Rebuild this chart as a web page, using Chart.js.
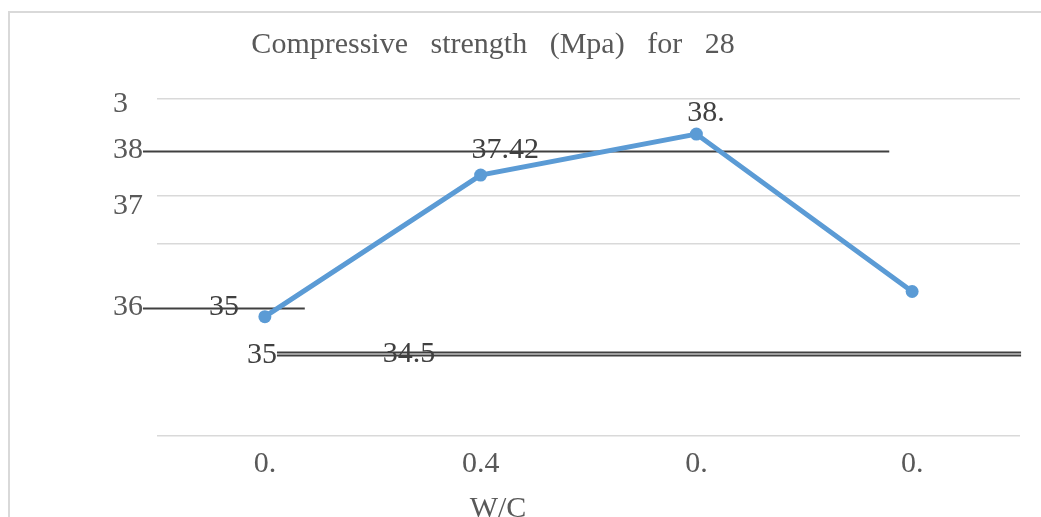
<!DOCTYPE html>
<html>
<head>
<meta charset="utf-8">
<script src="https://cdn.jsdelivr.net/npm/chart.js@4.4.1/dist/chart.umd.min.js"></script>
<style>
  html, body { margin: 0; padding: 0; background: #fff; overflow: hidden; }
  #frame {
    position: absolute; left: 8px; top: 11px; width: 1100px; height: 600px;
    border-left: 2px solid #d9d9d9; border-top: 2px solid #d9d9d9;
  }
  #chart { position: absolute; left: 0; top: 0; }
</style>
</head>
<body>
<div id="frame"></div>
<canvas id="chart" width="1041" height="540"></canvas>
<script>
const categories = ["0.", "0.4", "0.", "0."];
const strength = [35, 37.42, 38.12, 35.43];

// light gridlines (value levels)
const gridLevels = [32.96, 36.25, 37.07, 38.72];

// stray y labels and loose value labels as they sit in the picture
const yTickLabels = ["3", "38", "37", "36"];
const yTickLevels = [38.5, 37.71, 36.75, 35.02];
const looseLabels = ["35", "35", "34.5", "37.42", "38."];
const looseLevels = [35.02, 34.21, 34.23, 37.71, 38.34];

// dark horizontal rules
const ruleLevels = [37.83, 35.15, 34.4, 34.35];

// horizontal placement (category index units)
const yTickAt = -0.704;
const looseAt = [-0.259, -0.083, 0.546, 0.958, 1.958];
const ruleSpans = [[-0.565, 2.894], [-0.565, 0.185], [0.056, 3.505], [0.056, 3.505]];

const serif = "'Liberation Serif', 'Times New Roman', serif";

const overlay = {
  id: "overlay",
  beforeDatasetsDraw(chart) {
    const { ctx, scales: { x, y } } = chart;
    ctx.save();
    ctx.strokeStyle = "#404040";
    ctx.lineWidth = 2;
    ruleLevels.forEach((level, i) => {
      const py = Math.round(y.getPixelForValue(level)) + 0.5;
      ctx.beginPath();
      ctx.moveTo(x.getPixelForValue(ruleSpans[i][0]), py);
      ctx.lineTo(x.getPixelForValue(ruleSpans[i][1]), py);
      ctx.stroke();
    });
    ctx.restore();
  },
  afterDatasetsDraw(chart) {
    const { ctx, scales: { x, y } } = chart;
    ctx.save();
    ctx.font = "30px " + serif;
    ctx.textAlign = "left";
    ctx.textBaseline = "alphabetic";
    ctx.fillStyle = "#595959";
    yTickLabels.forEach((t, i) => {
      ctx.fillText(t, x.getPixelForValue(yTickAt), y.getPixelForValue(yTickLevels[i]));
    });
    ctx.fillStyle = "#404040";
    looseLabels.forEach((t, i) => {
      ctx.fillText(t, x.getPixelForValue(looseAt[i]), y.getPixelForValue(looseLevels[i]));
    });
    // chart title and x axis title, both off-centre in the original
    ctx.fillStyle = "#595959";
    ctx.textAlign = "center";
    ctx.fillText("Compressive   strength   (Mpa)   for   28", 493, 53);
    ctx.fillText("W/C", 498, 517);
    ctx.restore();
  },
};

new Chart(document.getElementById("chart"), {
  type: "line",
  data: {
    labels: categories,
    datasets: [
      {
        label: "Compressive strength (Mpa)",
        data: strength,
        borderColor: "#5b9bd5",
        backgroundColor: "#5b9bd5",
        borderWidth: 5,
        pointRadius: 6.5,
        pointBorderWidth: 0,
        pointBackgroundColor: "#5b9bd5",
        tension: 0,
      },
    ],
  },
  options: {
    responsive: false,
    animation: false,
    devicePixelRatio: 1,
    layout: { padding: { left: 157, right: 21, top: 99, bottom: 48 } },
    plugins: {
      legend: { display: false },
      tooltip: { enabled: false },
      title: { display: false },
    },
    scales: {
      x: {
        type: "category",
        offset: true,
        grid: { display: false, drawTicks: false },
        border: { display: false },
        ticks: {
          color: "#595959",
          font: { family: serif, size: 30 },
          padding: 10,
        },
      },
      y: {
        min: 32.96,
        max: 38.72,
        afterBuildTicks: (scale) => {
          scale.ticks = gridLevels.map((v) => ({ value: v }));
        },
        grid: { color: "#d9d9d9", lineWidth: 1.5, drawTicks: false },
        border: { display: false },
        ticks: { display: false },
      },
    },
  },
  plugins: [overlay],
});
</script>
</body>
</html>
